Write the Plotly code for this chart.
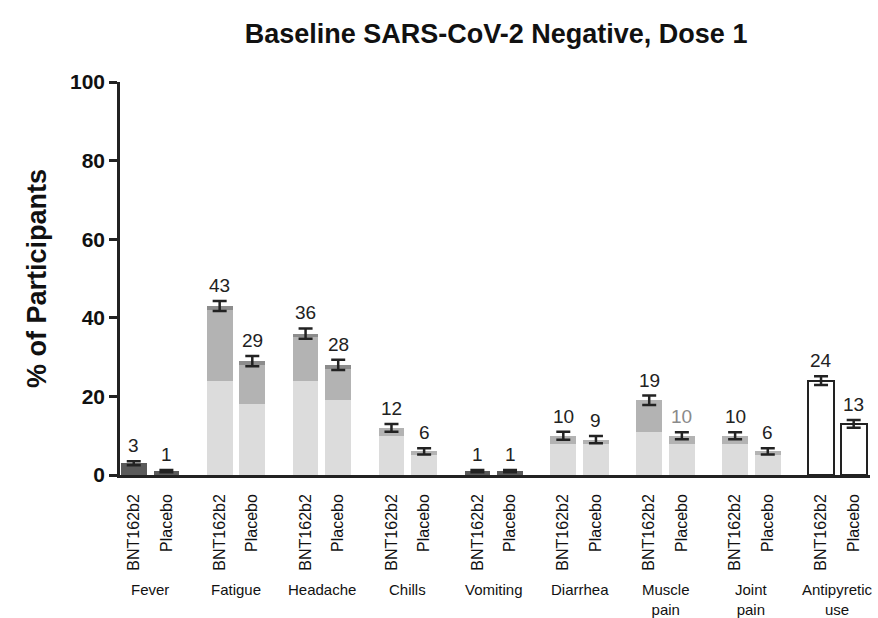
import plotly.graph_objects as go

# Solicited systemic events after dose 1 (% of participants), by severity
categories = ["Fever", "Fatigue", "Headache", "Chills", "Vomiting", "Diarrhea",
              "Muscle<br>pain", "Joint<br>pain", "Antipyretic<br>use"]
groups = ["BNT162b2", "Placebo"]

bnt_mild = [2, 24, 24, 10, 1, 8, 11, 8]
bnt_moderate = [1, 18, 11, 2, 0, 2, 8, 2]
bnt_severe = [0, 1, 1, 0, 0, 0, 0, 0]
bnt_total = [3, 43, 36, 12, 1, 10, 19, 10]
bnt_err = [0.5, 1.3, 1.3, 1.0, 0.3, 1.0, 1.2, 0.9]

pla_mild = [1, 18, 19, 5, 1, 8, 8, 5]
pla_moderate = [0, 10, 8, 1, 0, 1, 2, 1]
pla_severe = [0, 1, 1, 0, 0, 0, 0, 0]
pla_total = [1, 29, 28, 6, 1, 9, 10, 6]
pla_err = [0.3, 1.3, 1.3, 0.8, 0.3, 0.9, 0.9, 0.8]

antipyretic_total = [24, 13]
antipyretic_err = [1.1, 1.0]

FONT = "Liberation Sans, Arial, sans-serif"
OFF = 0.19
n_sym = len(bnt_total)

x_bnt = [i - OFF for i in range(n_sym)]
x_pla = [i + OFF for i in range(n_sym)]
x_anti = [n_sym - OFF, n_sym + OFF]

MILD, MOD, SEV, DARK = "#dcdcdc", "#b3b3b3", "#8c8c8c", "#5a5a5a"
# fever and vomiting bars are drawn in a dark tone
mild_colors = [DARK if c in ("Fever", "Vomiting") else MILD for c in categories[:n_sym]]
mod_colors = [DARK if c in ("Fever", "Vomiting") else MOD for c in categories[:n_sym]]

xs = x_bnt + x_pla
fig = go.Figure()
for vals, cols in [(bnt_mild + pla_mild, mild_colors * 2),
                   (bnt_moderate + pla_moderate, mod_colors * 2),
                   (bnt_severe + pla_severe, [SEV] * (2 * n_sym))]:
    fig.add_trace(go.Bar(x=xs, y=vals, width=0.30, marker=dict(color=cols, line=dict(width=0)),
                         showlegend=False, hoverinfo="skip"))

fig.add_trace(go.Bar(x=x_anti, y=antipyretic_total, width=0.30,
                     marker=dict(color="white", line=dict(color="#222", width=2)),
                     showlegend=False, hoverinfo="skip"))
fig.update_layout(barmode="stack")

# error bars at the bar tops
all_x = xs + x_anti
all_tot = bnt_total + pla_total + antipyretic_total
all_err = bnt_err + pla_err + antipyretic_err
fig.add_trace(go.Scatter(x=all_x, y=all_tot, mode="markers",
                         marker=dict(size=1, color="rgba(0,0,0,0)"),
                         error_y=dict(type="data", array=all_err, color="#222",
                                      thickness=2.5, width=7),
                         showlegend=False, hoverinfo="skip"))

# value labels
label_colors = ["#222"] * len(all_x)
label_colors[n_sym + 6] = "#8a8a8a"
for xv, t, e, c in zip(all_x, all_tot, all_err, label_colors):
    fig.add_annotation(x=xv, y=t + e, text=str(t), showarrow=False, yanchor="bottom",
                       yshift=3, font=dict(family=FONT, size=19, color=c))

# category names below the rotated tick labels
for i, cat in enumerate(categories):
    fig.add_annotation(x=i, y=-0.265, xref="x", yref="paper", text=cat, showarrow=False,
                       yanchor="top", font=dict(family=FONT, size=15, color="#111"))

tick_x = all_x
tick_text = groups[:1] * n_sym + groups[1:] * n_sym + groups
fig.update_layout(
    width=878, height=618,
    margin=dict(l=120, r=8, t=82, b=143),
    plot_bgcolor="white", paper_bgcolor="white",
    title=dict(text="Baseline SARS-CoV-2 Negative, Dose 1", x=0.565, xanchor="center",
               y=0.945, yanchor="middle",
               font=dict(family=FONT, size=27, color="#111", weight="bold")),
    xaxis=dict(range=[-0.35, 8.38], tickvals=tick_x, ticktext=tick_text, tickangle=-90,
               showline=True, linecolor="#222", linewidth=2.5, ticks="", showgrid=False,
               zeroline=False, ticklabelstandoff=10,
               tickfont=dict(family=FONT, size=16, color="#111")),
    yaxis=dict(range=[0, 100], tickvals=[0, 20, 40, 60, 80, 100], showline=True,
               linecolor="#222", linewidth=2.5, ticks="outside", ticklen=8, tickwidth=2.5,
               tickcolor="#222", showgrid=False, zeroline=False,
               tickfont=dict(family=FONT, size=21, color="#111", weight="bold"),
               title=dict(text="% of Participants", standoff=16,
                          font=dict(family=FONT, size=27, color="#111", weight="bold"))),
)
fig.write_html("out.html")
